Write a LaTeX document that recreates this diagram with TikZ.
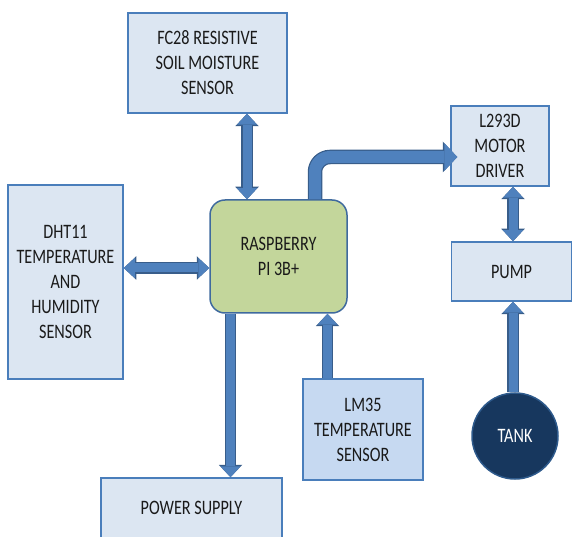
\documentclass[tikz,border=0pt]{standalone}
\usepackage{fontspec}
\setmainfont{Carlito}[FakeStretch=0.79]
\usetikzlibrary{arrows.meta}
\definecolor{boxfill}{HTML}{DCE6F2}
\definecolor{boxline}{HTML}{4A7EBB}
\definecolor{lmfill}{HTML}{C6D9F1}
\definecolor{rpifill}{HTML}{C3D69B}
\definecolor{rpiline}{HTML}{3F6A9E}
\definecolor{tankfill}{HTML}{17375E}
\definecolor{tankline}{HTML}{2E5A8C}
\definecolor{afill}{HTML}{4F81BD}
\definecolor{aline}{HTML}{385D8A}
\definecolor{txt}{HTML}{1A1A1A}
\tikzset{
  x=1pt, y=1pt,
  box/.style={draw=boxline, line width=1.5pt, fill=boxfill, text=txt, align=center,
    inner sep=0pt, font=\fontsize{20.5}{25}\selectfont},
  ar/.style={draw=afill, line width=9pt,
    -{Triangle[width=20pt,length=11pt,line width=0pt]},
    preaction={draw=aline, line width=11.5pt, -{Triangle[width=23.5pt,length=12.5pt,line width=0pt]}}},
  arb/.style={draw=afill, line width=9pt,
    {Triangle[width=20pt,length=11pt,line width=0pt]}-{Triangle[width=20pt,length=11pt,line width=0pt]},
    preaction={draw=aline, line width=11.5pt, {Triangle[width=23.5pt,length=12.5pt,line width=0pt]}-{Triangle[width=23.5pt,length=12.5pt,line width=0pt]}}},
  arbig/.style={draw=afill, line width=12pt,
    -{Triangle[width=28pt,length=13pt,line width=0pt]},
    preaction={draw=aline, line width=14.5pt, -{Triangle[width=31pt,length=14.5pt,line width=0pt]}}},
}
\begin{document}
\begin{tikzpicture}
\useasboundingbox (0,0) rectangle (573,-537);
% nodes
\node[box, minimum width=159pt, minimum height=100pt] (fc) at (207.5,-63) {FC28 RESISTIVE\\SOIL MOISTURE\\SENSOR};
\node[box, draw=rpiline, fill=rpifill, rounded corners=15pt, minimum width=137pt, minimum height=113pt] (rpi) at (278.5,-256.5) {RASPBERRY\\PI 3B+};
\node[box, minimum width=98pt, minimum height=80pt] (drv) at (500,-146) {L293D\\MOTOR\\DRIVER};
\node[box, minimum width=120pt, minimum height=59pt] (pump) at (511.5,-271.5) {PUMP};
\node[box, minimum width=115pt, minimum height=194pt] (dht) at (65.5,-282) {DHT11\\TEMPERATURE\\AND\\HUMIDITY\\SENSOR};
\node[box, minimum width=181pt, minimum height=60pt] (ps) at (191.5,-508) {POWER SUPPLY};
\node[box, fill=lmfill, minimum width=120pt, minimum height=101pt] (lm) at (363,-429.5) {LM35\\TEMPERATURE\\SENSOR};
\node[box, circle, draw=tankline, fill=tankfill, text=white, minimum size=86pt] (tank) at (515,-436) {TANK};
% connectors
\draw[arb] ([xshift=39.5pt]fc.south) -- ([xshift=-31.5pt]rpi.north);
\draw[arb] ([yshift=14pt]dht.east) -- ([yshift=-11.5pt]rpi.west);
\draw[ar] ([xshift=-48pt]rpi.south) -- ([xshift=39pt]ps.north);
\draw[ar] ([xshift=-35.5pt]lm.north) -- ([xshift=49pt]rpi.south);
\draw[arb] ([xshift=13pt]drv.south) -- ([xshift=1.5pt]pump.north);
\draw[ar] ([xshift=-2pt]tank.north) -- ([xshift=1.5pt]pump.south);
\draw[arbig, rounded corners=15pt] ([xshift=36.5pt]rpi.north) |- ([xshift=7pt,yshift=-11pt]drv.west);
\end{tikzpicture}
\end{document}
